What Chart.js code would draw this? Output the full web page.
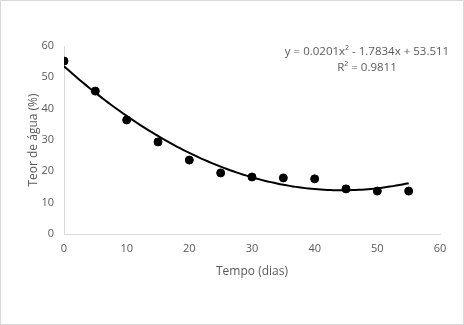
<!DOCTYPE html>
<html><head><meta charset="utf-8">
<script src="https://cdn.jsdelivr.net/npm/chart.js@4/dist/chart.umd.min.js"></script>
<style>html,body{margin:0;padding:0;background:#fff}#w{width:464px;height:325px;position:relative}</style>
</head><body><div id="w"><canvas id="c" width="464" height="325"></canvas></div>
<script>
const days = [0,5,10,15,20,25,30,35,40,45,50,55];
const water = [55.2,45.6,36.4,29.4,23.6,19.5,18.2,17.9,17.6,14.4,13.7,13.7];
const fitCoef = [53.511,-1.7834,0.0201]; // from the equation printed on the chart
const xTicks = [0,10,20,30,40,50,60];
const yTicks = [0,10,20,30,40,50,60];
const eqLines = ['y = 0.0201x\u00B2 - 1.7834x + 53.511','R\u00B2 = 0.9811'];

const fitPts = [];
for (let x = 0; x <= 55; x += 0.5) fitPts.push({x, y: fitCoef[0] + fitCoef[1]*x + fitCoef[2]*x*x});

const FONT = "'Open Sans', 'Liberation Sans', sans-serif";
const GRAY = '#595959';

const deco = {
  id:'deco',
  afterDraw(chart){
    const ctx = chart.ctx;
    ctx.save();
    ctx.strokeStyle = '#d9d9d9'; ctx.lineWidth = 1;
    ctx.strokeRect(0.5,0.5,463,324);
    ctx.fillStyle = GRAY; ctx.font = '11.5px ' + FONT; ctx.textAlign='center'; ctx.textBaseline='middle';
    ctx.fillText(eqLines[0], 367, 52);
    ctx.fillText(eqLines[1], 367, 68);
    ctx.restore();
  }
};

new Chart(document.getElementById('c'), {
  type:'scatter',
  data:{datasets:[
    {label:'fit', type:'line', data:fitPts, borderColor:'#000', borderWidth:2, pointRadius:0, tension:0, fill:false, order:2},
    {label:'Teor', data: days.map((d,i)=>({x:d,y:water[i]})), backgroundColor:'#000', borderColor:'#000', pointRadius:4, pointHoverRadius:4, order:1}
  ]},
  options:{
    responsive:false, animation:false, devicePixelRatio:1,
    layout:{padding:{left:22,right:24,top:46,bottom:42}},
    plugins:{legend:{display:false}, tooltip:{enabled:false}},
    scales:{
      x:{type:'linear', min:0, max:60,
        afterBuildTicks(s){ s.ticks = xTicks.map(v=>({value:v})); },
        afterFit(s){ s.height = 325-234-42; },
        grid:{display:false, drawTicks:false},
        border:{display:true, color:'#d9d9d9', width:1},
        ticks:{color:GRAY, font:{family:FONT,size:11}, padding:8},
        title:{display:true, text:'Tempo (dias)', color:GRAY, font:{family:FONT,size:12}, padding:{top:4}}
      },
      y:{type:'linear', min:0, max:60,
        afterBuildTicks(s){ s.ticks = yTicks.map(v=>({value:v})); },
        afterFit(s){ s.width = 64-22; },
        grid:{display:false, drawTicks:false},
        border:{display:true, color:'#d9d9d9', width:1},
        ticks:{color:GRAY, font:{family:FONT,size:11}, padding:10},
        title:{display:true, text:'Teor de água (%)', color:GRAY, font:{family:FONT,size:12}, padding:{bottom:0}}
      }
    }
  },
  plugins:[deco]
});
</script></body></html>
